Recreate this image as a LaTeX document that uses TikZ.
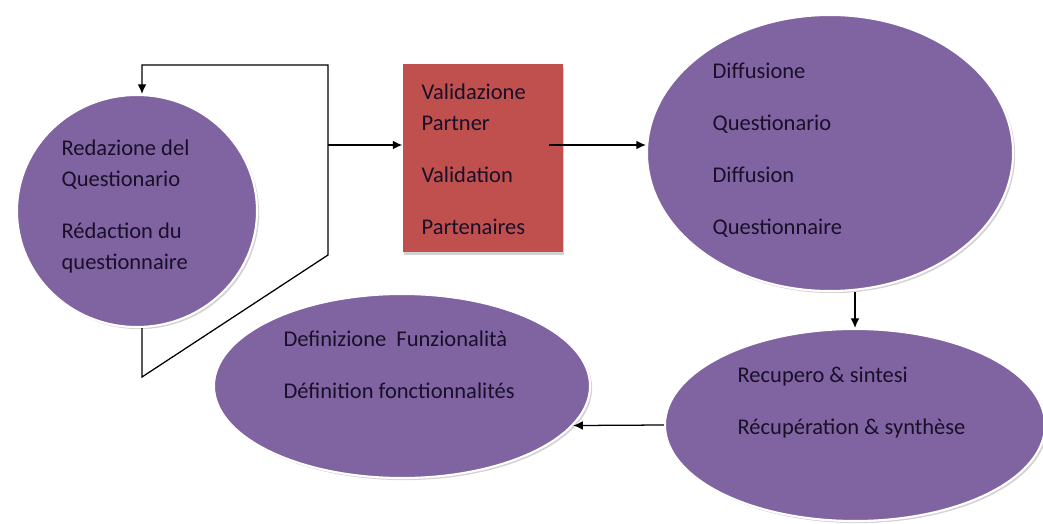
\documentclass[tikz,border=0pt]{standalone}
\usepackage{fontspec}
\setmainfont{Carlito}
\usetikzlibrary{
  arrows.meta,
  positioning,
  shapes.geometric,
  shadows,
}
\tikzset{
  >={Latex[width=2.2mm,length=2.4mm]},
}
\definecolor{purp}{RGB}{128,100,162}
\definecolor{valred}{RGB}{192,80,77}
\definecolor{ink}{RGB}{25,15,40}

\begin{document}
\begin{tikzpicture}[
        x=0.025cm, y=-0.025cm,
        phase/.style={ellipse, fill=purp, draw=white, line width=1.5pt,
          drop shadow={opacity=0.35, shadow xshift=1.5pt, shadow yshift=-1.5pt}},
        box/.style={rectangle, fill=valred, draw=none,
          drop shadow={opacity=0.35, shadow xshift=1pt, shadow yshift=-2.5pt}},
        lbl/.style={anchor=north west, inner sep=0pt, align=left, text=ink},
        every path/.style={line width=0.9pt},
      ]
      \fontsize{16}{22}\selectfont
      \useasboundingbox (0,0) rectangle (1043,524);
      \node (redaz) [phase, minimum width=6cm, minimum height=5.8cm] at (137,211) {};
      \node (valid) [box, minimum width=4cm, minimum height=4.675cm] at (483,158) {};
      \node (diff) [phase, minimum width=9.15cm, minimum height=6.9cm] at (830,153) {};
      \node (recup) [phase, minimum width=9.5cm, minimum height=4.8cm] at (855,425) {};
      \node (defin) [phase, minimum width=9.4cm, minimum height=4.6cm] at (402,386) {};

      \node (redazT) [lbl] at (61,139) {Redazione del\\ Questionario\\[15pt] Rédaction du\\ questionnaire};
      \node (validT) [lbl] at (421,83) {Validazione\\ Partner\\[15pt] Validation\\[15pt] Partenaires};
      \node (diffT) [lbl] at (712,62) {Diffusione\\[15pt] Questionario\\[15pt] Diffusion\\[15pt] Questionnaire};
      \node (definT) [lbl] at (283,330) {Definizione\ \ Funzionalità\\[15pt] Définition fonctionnalités};
      \node (recupT) [lbl] at (737,366) {Recupero \& sintesi\\[15pt] Récupération \& synthèse};

      \coordinate (lt) at (328,65);
      \coordinate (lb) at (328,255);
      \coordinate (lo) at (142,377);
      \coordinate (split) at (328,145);
      \coordinate (vout) at (549,145);

      \draw[->] (redaz.south -| lo) -- (lo) -- (lb) -- (lt) -- (lt -| lo) -- (redaz.north -| lo);
      \draw[->] (split) -- (split -| valid.west);
      \draw[->] (vout) -- (vout -| diff.west);
      \draw[->] (recup.north |- diff.south) -- (recup.north);
      \draw[->] (recup.west) -- (defin.-13);
    \end{tikzpicture}
\end{document}
